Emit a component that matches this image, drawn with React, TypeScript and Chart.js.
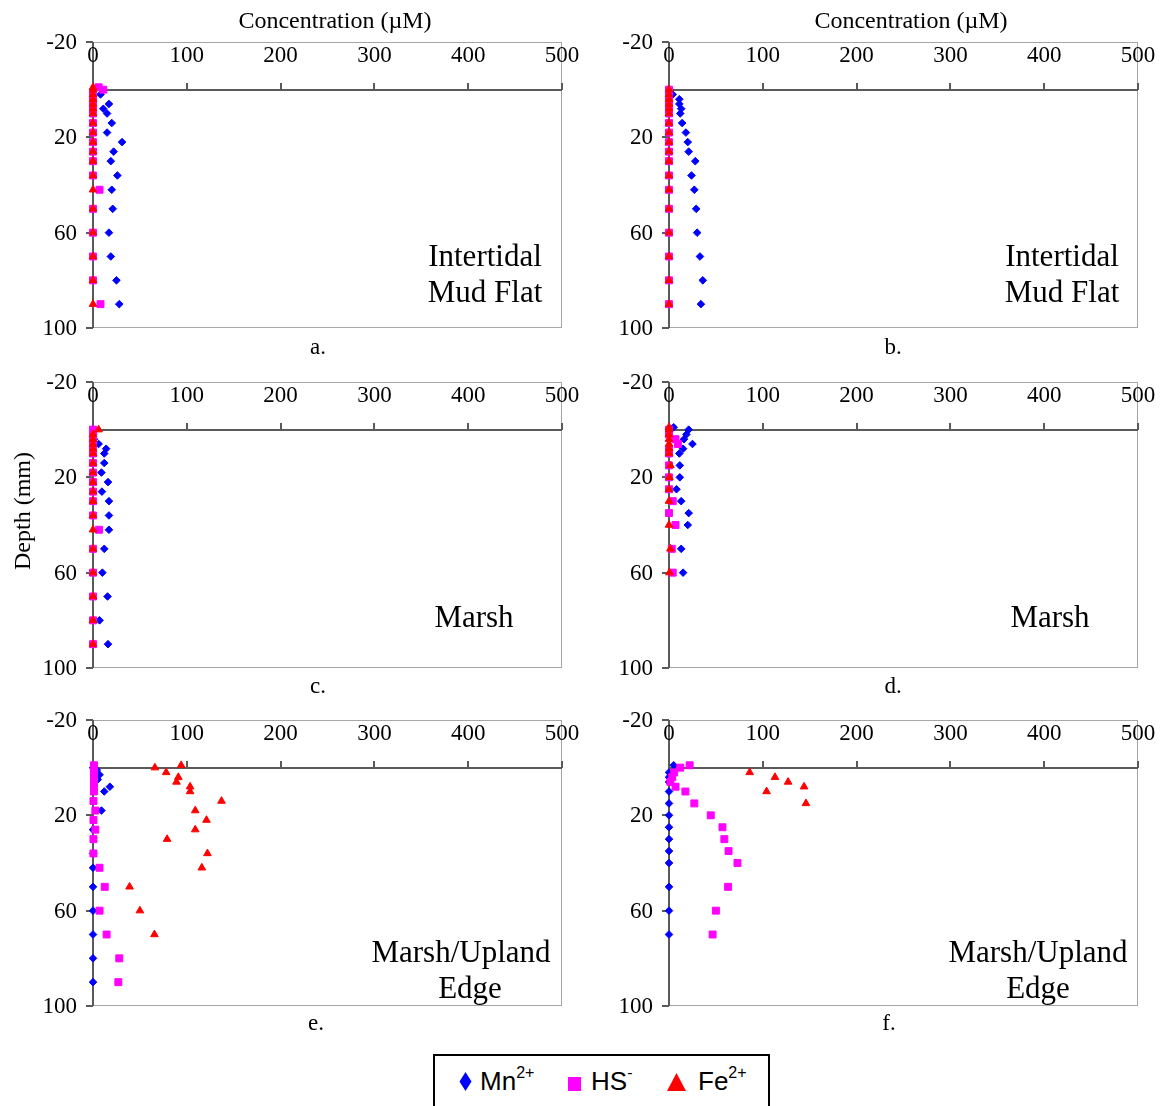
import React, { useEffect, useRef } from 'react';
import { Chart, registerables } from 'chart.js';
Chart.register(...registerables);

// ---------- axis ticks ----------
const X_TICKS = [0, 100, 200, 300, 400, 500];
const Y_TICKS = [-20, 20, 60, 100];

// ---------- panel a: Intertidal Mud Flat ----------
const aMnDepth = [0, 2, 6, 8, 10, 14, 18, 22, 26, 30, 36, 42, 50, 60, 70, 80, 90];
const aMnConc = [0, 8, 17, 11, 15, 20, 15, 31, 22, 19, 26, 20, 21, 17, 19, 25, 28];
const aHSDepth = [-1, 0, 2, 4, 6, 8, 10, 14, 18, 22, 26, 30, 36, 42, 50, 60, 70, 80, 90];
const aHSConc = [6, 11, 0, 0, 0, 0, 0, 0, 0, 0, 0, 0, 0, 7, 0, 0, 0, 0, 8];
const aFeDepth = [-1, 0, 2, 4, 6, 8, 10, 14, 18, 22, 26, 30, 36, 42, 50, 60, 70, 80, 90];
const aFeConc = [0, 0, 0, 0, 0, 0, 0, 0, 0, 0, 0, 0, 0, 0, 0, 0, 0, 0, 0];

// ---------- panel b: Intertidal Mud Flat ----------
const bMnDepth = [0, 2, 4, 6, 8, 10, 14, 18, 22, 26, 30, 36, 42, 50, 60, 70, 80, 90];
const bMnConc = [0, 4, 11, 11, 13, 12, 14, 18, 20, 21, 28, 24, 27, 29, 30, 33, 36, 34];
const bHSDepth = [0, 2, 4, 6, 8, 10, 14, 18, 22, 26, 30, 36, 42, 50, 60, 70, 80, 90];
const bHSConc = [0, 0, 0, 0, 0, 0, 0, 0, 0, 0, 0, 0, 0, 0, 0, 0, 0, 0];
const bFeDepth = [0, 2, 4, 6, 8, 10, 14, 18, 22, 26, 30, 36, 42, 50, 60, 70, 80, 90];
const bFeConc = [0, 0, 0, 0, 0, 0, 0, 0, 0, 0, 0, 0, 0, 0, 0, 0, 0, 0];

// ---------- panel c: Marsh ----------
const cMnDepth = [0, 2, 4, 6, 8, 10, 14, 18, 22, 26, 30, 36, 42, 50, 60, 70, 80, 90];
const cMnConc = [0, 0, 1, 6, 14, 12, 12, 9, 16, 9.5, 17, 17, 17, 12, 10, 15.5, 7, 16];
const cHSDepth = [0, 2, 4, 6, 8, 10, 14, 18, 22, 26, 30, 36, 42, 50, 60, 70, 80, 90];
const cHSConc = [0, 0, 0, 0, 0, 0, 0, 0, 0, 0, 0, 0, 6.5, 0, 0, 0, 0, 0];
const cFeDepth = [0, 2, 4, 6, 8, 10, 14, 18, 22, 26, 30, 36, 42, 50, 60, 70, 80, 90];
const cFeConc = [6, 0, 0, 0, 0, 0, 0, 0, 0, 0, 0, 0, 0, 0, 0, 0, 0, 0];

// ---------- panel d: Marsh ----------
const dMnDepth = [-1, 0, 2, 4, 6, 8, 10, 15, 20, 25, 30, 35, 40, 50, 60];
const dMnConc = [5, 21, 18.5, 16, 25, 15, 11, 11.5, 11.5, 8, 13, 21, 20, 13, 15];
const dHSDepth = [0, 2, 4, 6, 8, 10, 15, 20, 25, 30, 35, 40, 50, 60];
const dHSConc = [0, 0, 7, 9.5, 0, 0, 0, 0, 0, 4, 0, 7, 3, 4];
const dFeDepth = [-1, 0, 2, 4, 6, 8, 10, 15, 20, 25, 30, 40, 50, 60];
const dFeConc = [0, 0, 0, 0, 0, 0, 0, 1.5, 0.5, 0, 0, 0, 1.5, 0.5];

// ---------- panel e: Marsh/Upland Edge ----------
const eMnDepth = [0, 1, 3, 5, 8, 10, 18, 26, 36, 42, 50, 60, 70, 80, 90];
const eMnConc = [0, 4, 7, 5, 18, 12, 9, 0, 0, 0, 0, 0, 0, 0, 0];
const eHSDepth = [-1, 0, 2, 4, 6, 8, 10, 14, 18, 22, 26, 30, 36, 42, 50, 60, 70, 80, 90];
const eHSConc = [1, 1, 1, 1, 1, 1, 1, 0.5, 2.5, 0.5, 2.5, 0.5, 0.5, 7, 12.5, 7, 14.5, 28, 27];
const eFeDepth = [-1, 0, 2, 4, 6, 8, 10, 14, 18, 22, 26, 30, 36, 42, 50, 60, 70];
const eFeConc = [94, 66, 78, 91, 89, 103.5, 103.5, 137, 109, 121, 109, 79, 122, 116, 39, 50, 65.5];

// ---------- panel f: Marsh/Upland Edge ----------
const fMnDepth = [-1, 2, 4, 6, 10, 15, 20, 25, 30, 35, 40, 50, 60, 70];
const fMnConc = [5, 0, 0, 0, 0, 0, 0, 0, 0, 0, 0, 0, 0, 0];
const fHSDepth = [-1, 0, 2, 4, 6, 8, 10, 15, 20, 25, 30, 35, 40, 50, 60, 70];
const fHSConc = [22, 12, 5.5, 3.5, 1.5, 7, 17.5, 27, 44.5, 57, 59, 63.5, 73, 63, 50, 46.5];
const fFeDepth = [2, 4, 6, 8, 10, 15];
const fFeConc = [86, 113, 127, 144, 104, 146];

const MN_COLOR = '#0000FF';
const HS_COLOR = '#FF00FF';
const FE_COLOR = '#FF0000';

const SERIF = '"Liberation Serif", "Times New Roman", serif';
const SANS = '"Liberation Sans", Arial, sans-serif';

const PAD_L = 60;
const PAD_T = 10;
const PAD_R = 30;
const PAD_B = 10;
const PLOT_W = 469;
const PLOT_H = 286;

type Panel = {
  left: number;
  top: number;
  mn: [number[], number[]];
  hs: [number[], number[]];
  fe: [number[], number[]];
};

const panels: Panel[] = [
  { left: 93, top: 42, mn: [aMnConc, aMnDepth], hs: [aHSConc, aHSDepth], fe: [aFeConc, aFeDepth] },
  { left: 669, top: 42, mn: [bMnConc, bMnDepth], hs: [bHSConc, bHSDepth], fe: [bFeConc, bFeDepth] },
  { left: 93, top: 382, mn: [cMnConc, cMnDepth], hs: [cHSConc, cHSDepth], fe: [cFeConc, cFeDepth] },
  { left: 669, top: 382, mn: [dMnConc, dMnDepth], hs: [dHSConc, dHSDepth], fe: [dFeConc, dFeDepth] },
  { left: 93, top: 720, mn: [eMnConc, eMnDepth], hs: [eHSConc, eHSDepth], fe: [eFeConc, eFeDepth] },
  { left: 669, top: 720, mn: [fMnConc, fMnDepth], hs: [fHSConc, fHSDepth], fe: [fFeConc, fFeDepth] },
];

const zip = (xs: number[], ys: number[]) => xs.map((x, i) => ({ x, y: ys[i] }));

const axesPlugin = {
  id: 'excelAxes',
  beforeDatasetsDraw(chart: any) {
    const { ctx, chartArea: ca, scales } = chart;
    const x = scales.x;
    const y = scales.y;
    ctx.save();
    // plot-area border
    ctx.strokeStyle = '#a6a6a6';
    ctx.lineWidth = 1;
    ctx.strokeRect(ca.left + 0.5, ca.top + 0.5, ca.right - ca.left - 1, ca.bottom - ca.top - 1);

    const line = (x1: number, y1: number, x2: number, y2: number) => {
      ctx.beginPath();
      ctx.moveTo(x1, y1);
      ctx.lineTo(x2, y2);
      ctx.stroke();
    };
    ctx.strokeStyle = '#5a5a5a';
    ctx.lineWidth = 2;
    // horizontal axis at depth 0
    const y0 = Math.round(y.getPixelForValue(0));
    line(x.getPixelForValue(0), y0, x.getPixelForValue(500), y0);
    X_TICKS.forEach((t) => {
      if (t === 0) return;
      const px = Math.round(x.getPixelForValue(t));
      line(px, y0, px, y0 - 7);
    });
    // vertical axis at concentration 0
    const x0 = Math.round(x.getPixelForValue(0));
    line(x0, y.getPixelForValue(-20), x0, y.getPixelForValue(100));
    Y_TICKS.forEach((t) => {
      const py = Math.round(y.getPixelForValue(t));
      line(x0 - 7, py, x0, py);
    });
    // tick labels
    ctx.fillStyle = '#000';
    ctx.font = `23px ${SERIF}`;
    ctx.textBaseline = 'middle';
    ctx.textAlign = 'center';
    X_TICKS.forEach((t) => {
      ctx.fillText(String(t), x.getPixelForValue(t), ca.top + 14);
    });
    ctx.textAlign = 'right';
    Y_TICKS.forEach((t) => {
      ctx.fillText(String(t), x0 - 16, y.getPixelForValue(t) + 1);
    });
    ctx.restore();
  },
};

function PanelChart({ p }: { p: Panel }) {
  const ref = useRef<HTMLCanvasElement | null>(null);
  useEffect(() => {
    if (!ref.current) return;
    const chart = new Chart(ref.current, {
      type: 'scatter',
      data: {
        datasets: [
          {
            label: 'Mn2+',
            data: zip(p.mn[0], p.mn[1]),
            pointStyle: 'rectRot',
            pointRadius: 3.8,
            backgroundColor: MN_COLOR,
            borderColor: MN_COLOR,
            borderWidth: 1,
            order: 3,
            clip: false,
          },
          {
            label: 'HS-',
            data: zip(p.hs[0], p.hs[1]),
            pointStyle: 'rect',
            pointRadius: 4.9,
            backgroundColor: HS_COLOR,
            borderColor: HS_COLOR,
            borderWidth: 1,
            order: 2,
            clip: false,
          },
          {
            label: 'Fe2+',
            data: zip(p.fe[0], p.fe[1]),
            pointStyle: 'triangle',
            pointRadius: 4.4,
            backgroundColor: FE_COLOR,
            borderColor: FE_COLOR,
            borderWidth: 1,
            order: 1,
            clip: false,
          },
        ],
      } as any,
      options: {
        animation: false,
        responsive: false,
        maintainAspectRatio: false,
        events: [],
        layout: { padding: { left: PAD_L, top: PAD_T, right: PAD_R, bottom: PAD_B } },
        plugins: { legend: { display: false }, tooltip: { enabled: false } },
        scales: {
          x: { type: 'linear', min: 0, max: 500, display: false },
          y: { type: 'linear', min: -20, max: 100, reverse: true, display: false },
        },
      } as any,
      plugins: [axesPlugin],
    });
    return () => chart.destroy();
  }, [p]);
  const w = PLOT_W + PAD_L + PAD_R;
  const h = PLOT_H + PAD_T + PAD_B;
  return (
    <canvas
      ref={ref}
      width={w}
      height={h}
      style={{ position: 'absolute', left: p.left - PAD_L, top: p.top - PAD_T, width: w, height: h }}
    />
  );
}

function Txt({
  x,
  base,
  size,
  children,
  font = SERIF,
}: {
  x: number;
  base: number;
  size: number;
  children: React.ReactNode;
  font?: string;
}) {
  return (
    <div
      style={{
        position: 'absolute',
        left: x,
        top: base - 0.8375 * size,
        transform: 'translateX(-50%)',
        fontFamily: font,
        fontSize: size,
        lineHeight: 1,
        whiteSpace: 'nowrap',
        color: '#000',
      }}
    >
      {children}
    </div>
  );
}

const supStyle: React.CSSProperties = { fontSize: 16, position: 'relative', top: -12 };

export default function App() {
  return (
    <div
      style={{
        position: 'absolute',
        left: 0,
        top: 0,
        width: 1160,
        height: 1106,
        overflow: 'hidden',
        background: '#fff',
      }}
    >
      {panels.map((p, i) => (
        <PanelChart key={i} p={p} />
      ))}

      <Txt x={335} base={28} size={24}>Concentration (µM)</Txt>
      <Txt x={911} base={28} size={24}>Concentration (µM)</Txt>

      <div
        style={{
          position: 'absolute',
          left: 22,
          top: 511,
          transform: 'translate(-50%, -50%) rotate(-90deg)',
          fontFamily: SERIF,
          fontSize: 24,
          lineHeight: 1,
          whiteSpace: 'nowrap',
        }}
      >
        Depth (mm)
      </div>

      <Txt x={318} base={354} size={23}>a.</Txt>
      <Txt x={893} base={354} size={23}>b.</Txt>
      <Txt x={318} base={693} size={23}>c.</Txt>
      <Txt x={893} base={693} size={23}>d.</Txt>
      <Txt x={316} base={1030} size={23}>e.</Txt>
      <Txt x={889} base={1030} size={23}>f.</Txt>

      <Txt x={485} base={266} size={31}>Intertidal</Txt>
      <Txt x={485} base={302} size={31}>Mud Flat</Txt>
      <Txt x={1062} base={266} size={31}>Intertidal</Txt>
      <Txt x={1062} base={302} size={31}>Mud Flat</Txt>
      <Txt x={474} base={627} size={31}>Marsh</Txt>
      <Txt x={1050} base={627} size={31}>Marsh</Txt>
      <Txt x={461} base={962} size={31}>Marsh/Upland</Txt>
      <Txt x={470} base={998} size={31}>Edge</Txt>
      <Txt x={1038} base={962} size={31}>Marsh/Upland</Txt>
      <Txt x={1038} base={998} size={31}>Edge</Txt>

      {/* legend */}
      <div
        style={{
          position: 'absolute',
          left: 433,
          top: 1054,
          width: 333,
          height: 80,
          border: '2px solid #000',
          background: '#fff',
        }}
      />
      <svg style={{ position: 'absolute', left: 459, top: 1072, overflow: 'visible' }} width={13} height={19}>
        <polygon points="6.5,0 12.5,9.5 6.5,19 0.5,9.5" fill={MN_COLOR} />
      </svg>
      <svg style={{ position: 'absolute', left: 568, top: 1077, overflow: 'visible' }} width={13} height={14}>
        <rect x={0} y={0} width={13} height={14} fill={HS_COLOR} />
      </svg>
      <svg style={{ position: 'absolute', left: 667, top: 1073, overflow: 'visible' }} width={19} height={18}>
        <polygon points="9.5,0 19,18 0,18" fill={FE_COLOR} />
      </svg>
      <div style={{ position: 'absolute', left: 480, top: 1068, fontFamily: SANS, fontSize: 26, lineHeight: '26px', whiteSpace: 'nowrap' }}>
        Mn<span style={supStyle}>2+</span>
      </div>
      <div style={{ position: 'absolute', left: 591, top: 1068, fontFamily: SANS, fontSize: 26, lineHeight: '26px', whiteSpace: 'nowrap' }}>
        HS<span style={supStyle}>-</span>
      </div>
      <div style={{ position: 'absolute', left: 698, top: 1068, fontFamily: SANS, fontSize: 26, lineHeight: '26px', whiteSpace: 'nowrap' }}>
        Fe<span style={supStyle}>2+</span>
      </div>
    </div>
  );
}
